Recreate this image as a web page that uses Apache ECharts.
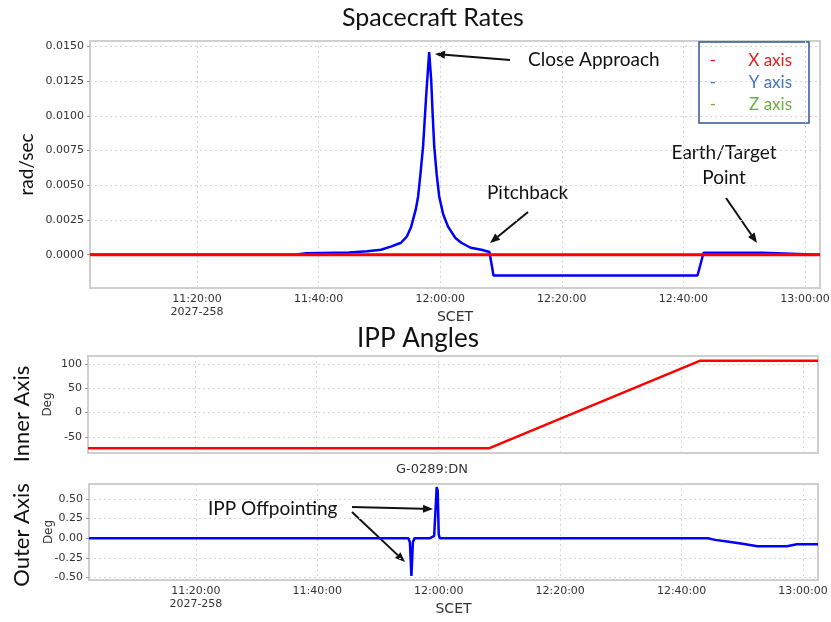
<!DOCTYPE html>
<html>
<head>
<meta charset="utf-8">
<script src="https://cdn.jsdelivr.net/npm/echarts@6/dist/echarts.min.js"></script>
<style>
  html, body { margin: 0; padding: 0; background: #fff; }
  #main { width: 831px; height: 622px; }
</style>
</head>
<body>
<div id="main"></div>
<script>
// SCET on day 2027-258; x values are seconds since midnight
const T_START = '11:02:24'
const T_END = '13:02:28'

// x tick labels (SCET)
const timeTicks = ['11:20:00', '11:40:00', '12:00:00', '12:20:00', '12:40:00', '13:00:00']

// Spacecraft rates, rad/sec
const rateYTimes = ['11:02:24', '11:36:00', '11:38:00', '11:45:00', '11:48:00', '11:50:15', '11:52:00', '11:53:33', '11:54:30',
  '11:55:13', '11:56:00', '11:56:22', '11:56:45', '11:57:11', '11:57:41', '11:58:11', '11:58:31', '11:58:45', '11:59:01',
  '11:59:25', '11:59:50', '12:00:30', '12:01:19', '12:02:30', '12:03:28', '12:05:00', '12:06:47', '12:08:06',
  '12:08:46', '12:42:19', '12:43:19', '12:52:54', '12:53:10', '13:02:28']
const rateYValues = [0, 0, 0.0001, 0.00015, 0.00025, 0.00036, 0.0006, 0.00086, 0.0013,
  0.002, 0.0033, 0.0042, 0.0058, 0.0078, 0.0114, 0.0146, 0.0126, 0.0102, 0.0078,
  0.0058, 0.0042, 0.0029, 0.002, 0.0012, 0.00086, 0.0005, 0.00036, 0.0002,
  -0.0015, -0.0015, 0.00014, 0.00014, 0, 0]
const rateXTimes = ['11:02:24', '13:02:28']
const rateXValues = [0, 0]
const rateZTimes = ['11:02:24', '13:02:28']
const rateZValues = [0, 0]
const rateTicks = [0, 0.0025, 0.005, 0.0075, 0.01, 0.0125, 0.015]

// IPP inner axis, deg
const innerTimes = ['11:02:24', '12:08:26', '12:43:00', '13:02:28']
const innerValues = [-73, -73, 106, 106]
const innerTicks = [-50, 0, 50, 100]

// IPP outer axis, deg
const outerTimes = ['11:02:24', '11:55:00', '11:55:15', '11:55:30', '11:55:45', '11:56:00', '11:58:30', '11:58:45',
  '11:59:15', '11:59:30', '11:59:40', '11:59:50', '12:00:00', '12:00:10', '12:44:20', '12:45:30', '12:47:30',
  '12:50:00', '12:52:30', '12:57:20', '12:59:00', '13:02:28']
const outerValues = [0, 0, -0.05, -0.48, -0.05, 0, 0, 0.02,
  0.03, 0.4, 0.65, 0.6, 0.05, 0, 0, -0.02, -0.04,
  -0.07, -0.1, -0.1, -0.075, -0.075]
const outerTicks = [-0.5, -0.25, 0, 0.25, 0.5]

const sec = (t) => {
  const p = t.split(':').map(Number)
  return p[0] * 3600 + p[1] * 60 + p[2]
}
const pairs = (ts, vs) => ts.map((t, i) => [sec(t), vs[i]])
const tickSec = timeTicks.map(sec)

const pad = (n) => (n < 10 ? '0' : '') + n
const fmtTime = (v) => pad(Math.floor(v / 3600)) + ':' + pad(Math.floor(v / 60) % 60) + ':' + pad(Math.round(v) % 60)

const labelFont = { fontFamily: 'DejaVu Sans', fontSize: 11, color: '#333' }
const gridLine = { show: true, lineStyle: { color: '#d6d6d6', type: [2, 3], width: 1 } }

function xAxisFor(gridIndex, showLabels) {
  return {
    type: 'value',
    gridIndex: gridIndex,
    min: sec(T_START),
    max: sec(T_END),
    axisLine: { show: false },
    axisTick: { show: false, customValues: tickSec },
    splitLine: gridLine,
    axisLabel: {
      show: showLabels,
      customValues: tickSec,
      ...labelFont,
      lineHeight: 13,
      margin: 5,
      formatter: (v) => fmtTime(v) + (v === tickSec[0] ? '\n2027-258' : '')
    },
    name: showLabels ? 'SCET' : '',
    nameLocation: 'middle',
    nameGap: 22,
    nameMoveOverlap: false,
    nameTextStyle: { fontFamily: 'DejaVu Sans', fontSize: 14, color: '#333' }
  }
}

function yAxisFor(gridIndex, min, max, ticks, digits, name, nameGap, nameStyle) {
  return {
    type: 'value',
    gridIndex: gridIndex,
    min: min,
    max: max,
    axisLine: { show: false },
    axisTick: { show: true, customValues: ticks, length: 3, lineStyle: { color: '#999' } },
    splitLine: gridLine,
    axisLabel: {
      customValues: ticks,
      ...labelFont,
      margin: 6,
      formatter: (v) => v.toFixed(digits)
    },
    name: name,
    nameLocation: 'middle',
    nameRotate: 90,
    nameGap: nameGap,
    nameMoveOverlap: false,
    nameTextStyle: nameStyle
  }
}

function arrow(x1, y1, x2, y2) {
  const a = Math.atan2(y2 - y1, x2 - x1)
  const L = 10, W = 4
  const bx = x2 - L * Math.cos(a), by = y2 - L * Math.sin(a)
  return {
    type: 'group',
    children: [
      { type: 'line', shape: { x1: x1, y1: y1, x2: bx, y2: by }, style: { stroke: '#111', lineWidth: 2 } },
      {
        type: 'polygon',
        shape: { points: [[x2, y2], [bx + W * Math.sin(a), by - W * Math.cos(a)], [bx - W * Math.sin(a), by + W * Math.cos(a)]] },
        style: { fill: '#111' }
      }
    ]
  }
}

const annFont = 'Lato'
function ann(x, y, text, align) {
  return {
    type: 'text', x: x, y: y,
    style: { text: text, font: '19px ' + annFont, fill: '#111', align: align || 'left', verticalAlign: 'middle' }
  }
}

const gridBase = { show: true, borderColor: '#cfcfcf', borderWidth: 2, backgroundColor: '#fff', outerBoundsMode: 'none', containLabel: false }

const chart = echarts.init(document.getElementById('main'), null, { renderer: 'canvas' })
chart.setOption({
  animation: false,
  backgroundColor: '#fff',
  grid: [
    { ...gridBase, left: 90, right: 11, top: 41, height: 247 },
    { ...gridBase, left: 88, right: 13, top: 356, height: 97 },
    { ...gridBase, left: 89, right: 13, top: 484, height: 96 }
  ],
  xAxis: [xAxisFor(0, true), xAxisFor(1, false), xAxisFor(2, true)],
  yAxis: [
    yAxisFor(0, -0.0024, 0.0154, rateTicks, 4, 'rad/sec', 54, { fontFamily: annFont, fontSize: 19, color: '#111' }),
    yAxisFor(1, -83, 116, innerTicks, 0, 'Deg', 34, { fontFamily: 'DejaVu Sans', fontSize: 12, color: '#333' }),
    yAxisFor(2, -0.53, 0.69, outerTicks, 2, 'Deg', 34, { fontFamily: 'DejaVu Sans', fontSize: 12, color: '#333' })
  ],
  series: [
    { name: 'Y axis', type: 'line', xAxisIndex: 0, yAxisIndex: 0, data: pairs(rateYTimes, rateYValues), symbol: 'none', lineStyle: { color: '#0000ff', width: 2.5 } },
    { name: 'Z axis', type: 'line', xAxisIndex: 0, yAxisIndex: 0, data: pairs(rateZTimes, rateZValues), symbol: 'none', lineStyle: { color: '#00b000', width: 2 } },
    { name: 'X axis', type: 'line', xAxisIndex: 0, yAxisIndex: 0, data: pairs(rateXTimes, rateXValues), symbol: 'none', lineStyle: { color: '#ff0000', width: 3 } },
    { name: 'Inner', type: 'line', xAxisIndex: 1, yAxisIndex: 1, data: pairs(innerTimes, innerValues), symbol: 'none', lineStyle: { color: '#ff0000', width: 2.5 } },
    { name: 'Outer', type: 'line', xAxisIndex: 2, yAxisIndex: 2, data: pairs(outerTimes, outerValues), symbol: 'none', lineStyle: { color: '#0000ff', width: 2.5 } }
  ],
  graphic: [
    { type: 'text', x: 433, y: 18, style: { text: 'Spacecraft Rates', font: '25px ' + annFont, fill: '#111', align: 'center', verticalAlign: 'middle' } },
    { type: 'text', x: 418, y: 339, style: { text: 'IPP Angles', font: '26px ' + annFont, fill: '#111', align: 'center', verticalAlign: 'middle' } },
    { type: 'text', x: 432, y: 470, style: { text: 'G-0289:DN', font: '13px DejaVu Sans', fill: '#333', align: 'center', verticalAlign: 'middle' } },
    { type: 'text', x: 22, y: 414, rotation: Math.PI / 2, style: { text: 'Inner Axis', font: '22px ' + annFont, fill: '#111', align: 'center', verticalAlign: 'middle' } },
    { type: 'text', x: 22, y: 535, rotation: Math.PI / 2, style: { text: 'Outer Axis', font: '22px ' + annFont, fill: '#111', align: 'center', verticalAlign: 'middle' } },
    // legend box
    { type: 'rect', shape: { x: 699, y: 42, width: 110, height: 81 }, style: { fill: '#fff', stroke: '#2f5597', lineWidth: 1.5 } },
    { type: 'text', x: 713, y: 61, style: { text: '-', font: '17px ' + annFont, fill: '#e02020', align: 'center', verticalAlign: 'middle' } },
    { type: 'text', x: 792, y: 61, style: { text: 'X axis', font: '17px ' + annFont, fill: '#e02020', align: 'right', verticalAlign: 'middle' } },
    { type: 'text', x: 713, y: 83, style: { text: '-', font: '17px ' + annFont, fill: '#4472c4', align: 'center', verticalAlign: 'middle' } },
    { type: 'text', x: 792, y: 83, style: { text: 'Y axis', font: '17px ' + annFont, fill: '#4472c4', align: 'right', verticalAlign: 'middle' } },
    { type: 'text', x: 713, y: 105, style: { text: '-', font: '17px ' + annFont, fill: '#70ad47', align: 'center', verticalAlign: 'middle' } },
    { type: 'text', x: 792, y: 105, style: { text: 'Z axis', font: '17px ' + annFont, fill: '#70ad47', align: 'right', verticalAlign: 'middle' } },
    // annotations
    ann(528, 60, 'Close Approach'),
    arrow(510, 60, 435, 54),
    ann(487, 193, 'Pitchback'),
    arrow(528, 212, 490, 243),
    ann(724, 153, 'Earth/Target', 'center'),
    ann(724, 178, 'Point', 'center'),
    arrow(726, 198, 757, 243),
    ann(208, 509, 'IPP Offpointing'),
    arrow(352, 507, 433, 509),
    arrow(352, 512, 405, 562)
  ]
})
</script>
</body>
</html>
